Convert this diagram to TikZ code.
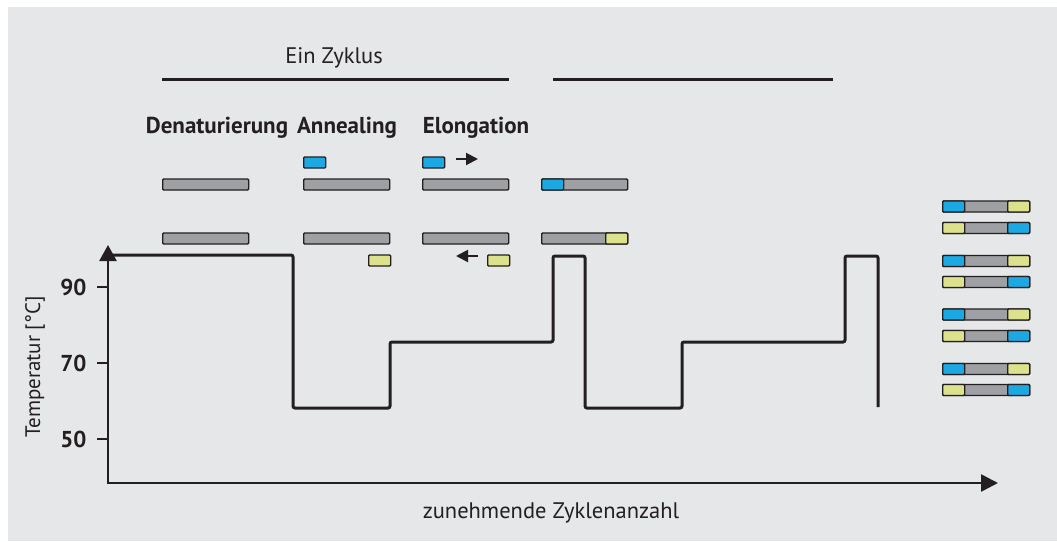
\documentclass[tikz,border=0pt]{standalone}
\usepackage{fontspec}
\setmainfont{PT Sans}
\usetikzlibrary{arrows.meta}
\definecolor{bg}{HTML}{E6E7E8}
\definecolor{strandgray}{HTML}{9FA0A4}
\definecolor{primerblue}{HTML}{1CA8E2}
\definecolor{primeryellow}{HTML}{DCE18C}
\definecolor{ink}{HTML}{231F20}
\begin{document}
\begin{tikzpicture}[x=1pt,y=-1pt,
  strandbox/.style={draw=ink, line width=1.4pt, rounded corners=1pt, inner sep=0pt, minimum height=11pt, anchor=west},
  graybar/.style={strandbox, fill=strandgray, minimum width=86pt},
  bluebar/.style={strandbox, fill=primerblue, minimum width=22pt},
  yellowbar/.style={strandbox, fill=primeryellow, minimum width=22pt},
  phase/.style={font=\fontsize{23}{26}\selectfont\bfseries, text=ink},
  ticklab/.style={font=\fontsize{23}{26}\selectfont\bfseries, text=ink, anchor=east},
  plain/.style={font=\fontsize{22.5}{26}\selectfont, text=ink},
  thick line/.style={draw=ink, line width=3pt},
  axis/.style={draw=ink, line width=2.5pt},
  smallarrow/.style={draw=ink, line width=2pt, -{Triangle[length=12pt,width=12pt]}}]
\useasboundingbox (0,0) rectangle (1057,541);
\fill[bg] (8,7) rectangle (1057,541);

% cycle bars
\node[plain] (zyklus) at (334,58) {Ein Zyklus};
\coordinate (c1a) at (162,79); \coordinate (c1b) at (509,79);
\coordinate (c2a) at (553,79); \coordinate (c2b) at (833,79);
\draw[thick line] (c1a) -- (c1b);
\draw[thick line] (c2a) -- (c2b);

% phase labels
\node[phase] (den) at (217,128) {Denaturierung};
\node[phase] (ann) at (347,128) {Annealing};
\node[phase] (elo) at (476,128) {Elongation};

% denaturation strands
\node[graybar] (d1) at (162,184.5) {};
\node[graybar] (d2) at (162,238.5) {};
% annealing
\node[graybar] (a1) at (303,184.5) {};
\node[graybar] (a2) at (303,238.5) {};
\node[bluebar] (ap1) at (303,162.5) {};
\node[yellowbar] (ap2) at (368,260.5) {};
% elongation
\node[graybar] (e1) at (422,184.5) {};
\node[graybar] (e2) at (422,238.5) {};
\node[bluebar] (ep1) at (422,162.5) {};
\node[yellowbar] (ep2) at (487,260.5) {};
\coordinate (ar1a) at (456,159); \coordinate (ar1b) at (478,159);
\coordinate (ar2a) at (478,256); \coordinate (ar2b) at (456,256);
\draw[smallarrow] (ar1a) -- (ar1b);
\draw[smallarrow] (ar2a) -- (ar2b);
% after elongation
\node[graybar] (f1) at (541,184.5) {};
\node[bluebar] (fp1) at (541,184.5) {};
\node[graybar] (f2) at (541,238.5) {};
\node[yellowbar] (fp2) at (605,238.5) {};

% product stack
\foreach \y/\k in {206.5/1,261/2,314.5/3,369/4}{
  \node[graybar, minimum width=87pt] (pa\k) at (942,\y) {};
  \node[bluebar] (pab\k) at (942,\y) {};
  \node[yellowbar] (pay\k) at (1007,\y) {};
}
\foreach \y/\k in {228/1,282/2,336/3,390/4}{
  \node[graybar, minimum width=87pt] (pb\k) at (942,\y) {};
  \node[yellowbar] (pby\k) at (942,\y) {};
  \node[bluebar] (pbb\k) at (1007,\y) {};
}

% axes
\coordinate (ytip) at (108,245);
\coordinate (origin) at (108,483);
\coordinate (xtip) at (998,483);
\draw[axis, {Triangle[length=16pt,width=17pt]}-{Triangle[length=17pt,width=17pt]}] (ytip) -- (origin) -- (xtip);
\foreach \v/\y in {90/287,70/363,50/439}{
  \coordinate (t\v) at (108,\y);
  \draw[axis, line width=2pt] (t\v) -- ++(-11,0);
  \node[ticklab] (l\v) at (90,\y) {\v};
}
\node[plain, rotate=90, font=\fontsize{21}{24}\selectfont] (ylab) at (35,367) {Temperatur [°C]};
\node[plain] (xlab) at (551,513) {zunehmende Zyklenanzahl};

% temperature profile
\coordinate (p0) at (108,255);
\draw[thick line, rounded corners=2pt] (p0) -- (293,255) -- (293,408) -- (390,408) -- (390,342)
  -- (553,342) -- (553,256) -- (585,256) -- (585,408) -- (682,408) -- (682,342)
  -- (845,342) -- (845,256) -- (878,256) -- (878,407);
\end{tikzpicture}
\end{document}
